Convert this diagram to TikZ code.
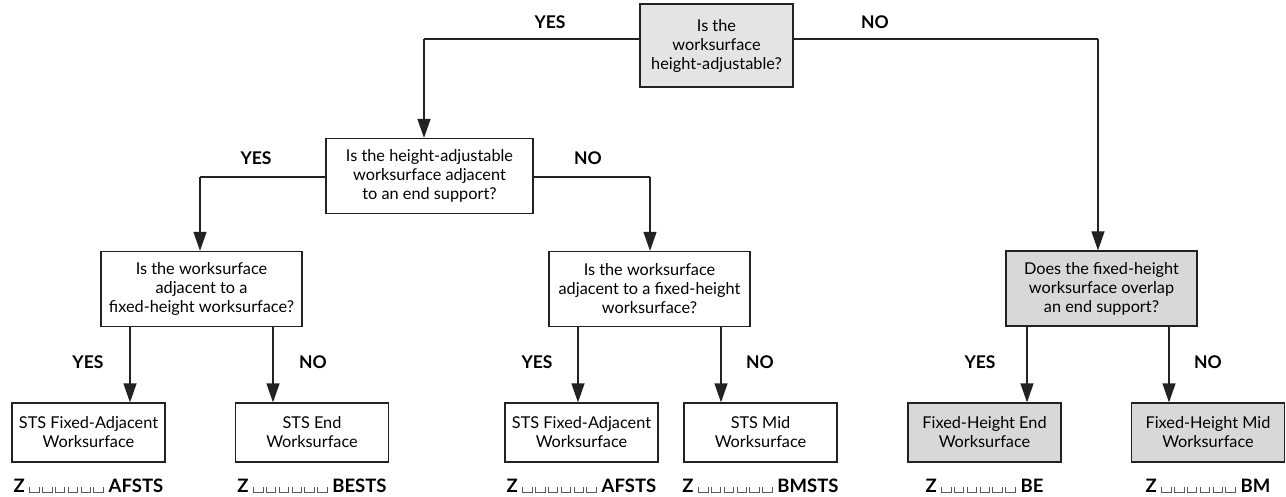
\documentclass[tikz,border=0pt]{standalone}
\usepackage{fontspec}
\setmainfont{Lato}
\usetikzlibrary{arrows.meta}
\definecolor{qgray}{HTML}{E4E4E4}
\definecolor{rgray}{HTML}{D8D8D8}
\definecolor{ink}{HTML}{222222}
\newcommand\obox{{\color{ink!75}\rule{0.8pt}{6pt}\rule{8.6pt}{0.8pt}\rule{0.8pt}{6pt}}\hspace{2.6pt}}
\newcommand\codetext[1]{\textbf{Z}\hspace{4.5pt}\obox\obox\obox\obox\obox\obox\hspace{2.5pt}\textbf{#1}}
\begin{document}
\begin{tikzpicture}[x=1pt,y=-1pt,
  box/.style={draw=ink, line width=1.2pt, fill=white, align=center, inner sep=0pt,
    font=\fontsize{16.3}{19}\selectfont},
  qbox/.style={box, minimum height=75pt},
  rbox/.style={box, minimum width=153pt, minimum height=59pt},
  lab/.style={font=\bfseries\fontsize{17.5}{18}\selectfont, inner sep=0pt},
  code/.style={font=\fontsize{18.5}{18}\selectfont, inner sep=0pt},
  arr/.style={draw=ink, line width=1.2pt, -{Triangle[length=19pt,width=13pt]}},
  ln/.style={draw=ink, line width=1.2pt}]
\useasboundingbox (0,0) rectangle (1286,497);

% question boxes
\node[box, fill=qgray, minimum width=153pt, minimum height=83pt] (q1) at (716.5,45.5)
  {Is the\\worksurface\\height-adjustable?};
\node[qbox, minimum width=207pt] (q2) at (429.5,176)
  {Is the height-adjustable\\worksurface adjacent\\to an end support?};
\node[qbox, minimum width=201pt] (q3) at (201.5,289)
  {Is the worksurface\\adjacent to a\\fixed-height worksurface?};
\node[qbox, minimum width=201pt] (q4) at (649.5,289)
  {Is the worksurface\\adjacent to a fixed-height\\worksurface?};
\node[qbox, fill=rgray, minimum width=191pt] (q5) at (1101.5,288.5)
  {Does the fixed-height\\worksurface overlap\\an end support?};

% result boxes
\node[rbox] (b1) at (88.5,432.5) {STS Fixed-Adjacent\\Worksurface};
\node[rbox] (b2) at (312,432.5) {STS End\\Worksurface};
\node[rbox] (b3) at (581.5,432.5) {STS Fixed-Adjacent\\Worksurface};
\node[rbox] (b4) at (760.5,432.5) {STS Mid\\Worksurface};
\node[rbox, fill=rgray] (b5) at (984.5,432.5) {Fixed-Height End\\Worksurface};
\node[rbox, fill=rgray] (b6) at (1208,432.5) {Fixed-Height Mid\\Worksurface};

% codes
\node[code] (c1) at (88.5,486) {\codetext{AFSTS}};
\node[code] (c2) at (312,486) {\codetext{BESTS}};
\node[code] (c3) at (581.5,486) {\codetext{AFSTS}};
\node[code] (c4) at (760.5,486) {\codetext{BMSTS}};
\node[code] (c5) at (984.5,486) {\codetext{BE}};
\node[code] (c6) at (1208,486) {\codetext{BM}};

% branch coordinates
\coordinate (k1) at (424,39);
\coordinate (k2) at (1098,39);
\coordinate (k3) at (200,177);
\coordinate (k4) at (650,177);
\coordinate (t1) at (130,326);
\coordinate (t2) at (273,326);
\coordinate (t3) at (578,326);
\coordinate (t4) at (721,326);
\coordinate (t5) at (1027,326);
\coordinate (t6) at (1169,326);

% connectors
\draw[ln] (q1.west |- k1) -- (k1);
\draw[arr] (k1) -- (k1 |- q2.north);
\draw[ln] (q1.east |- k2) -- (k2);
\draw[arr] (k2) -- (k2 |- q5.north);
\draw[ln] (q2.west |- k3) -- (k3);
\draw[arr] (k3) -- (k3 |- q3.north);
\draw[ln] (q2.east |- k4) -- (k4);
\draw[arr] (k4) -- (k4 |- q4.north);
\draw[arr] (t1) -- (t1 |- b1.north);
\draw[arr] (t2) -- (t2 |- b2.north);
\draw[arr] (t3) -- (t3 |- b3.north);
\draw[arr] (t4) -- (t4 |- b4.north);
\draw[arr] (t5) -- (t5 |- b5.north);
\draw[arr] (t6) -- (t6 |- b6.north);

% labels
\node[lab] (y1) at (550,22) {YES};
\node[lab] (n1) at (875,22) {NO};
\node[lab] (y2) at (256,158) {YES};
\node[lab] (n2) at (588,158) {NO};
\node[lab] (y3) at (88,362) {YES};
\node[lab] (n3) at (313,362) {NO};
\node[lab] (y4) at (537,362) {YES};
\node[lab] (n4) at (760,362) {NO};
\node[lab] (y5) at (980,362) {YES};
\node[lab] (n5) at (1208,362) {NO};
\end{tikzpicture}
\end{document}
